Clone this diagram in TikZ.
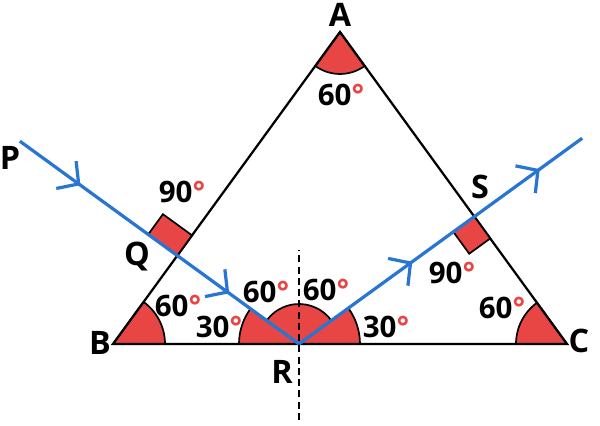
\documentclass[tikz,border=0pt]{standalone}
\usepackage{fontspec}
\setmainfont{Open Sans}
\usetikzlibrary{calc,arrows.meta,decorations.markings}
\definecolor{angred}{RGB}{232,69,69}
\definecolor{rayblue}{RGB}{40,118,210}
\newcommand{\dg}{\textcolor{angred}{°}}
\tikzset{
  chev/.style 2 args={postaction={decorate},decoration={markings,
    mark=at position #1 with {\arrow{Straight Barb[length=11pt,width=24pt]}},
    mark=at position #2 with {\arrow{Straight Barb[length=11pt,width=24pt]}}}}
}
\begin{document}
\begin{tikzpicture}[x=0.025cm,y=0.025cm,
    side/.style={line width=1.6pt},
    sector/.style={fill=angred,draw=black,line width=1.2pt},
    ray/.style={rayblue,line width=2.3pt},
    lbl/.style={font=\fontsize{23}{23}\selectfont\bfseries},
    ang/.style={font=\fontsize{21}{21}\selectfont\bfseries}]
  \useasboundingbox (0,0) rectangle (600,426);
  % triangle and light ray
  \coordinate (A) at (340,394);
  \coordinate (B) at (113,82);
  \coordinate (C) at (567,82);
  \coordinate (R) at (299,82);
  \coordinate (P) at ($(R)+(144:345)$);
  \coordinate (E) at ($(R)+(36:350)$);
  \coordinate (Q) at (intersection of P--R and B--A);
  \coordinate (S) at (intersection of R--E and C--A);
  \coordinate (N1) at (299,6);
  \coordinate (N2) at (299,176);
  % angles
  \draw[sector] (A) -- ++(234:42) arc[start angle=234,end angle=306,radius=42] -- cycle;
  \draw[sector] (B) -- ++(0:52) arc[start angle=0,end angle=54,radius=52] -- cycle;
  \draw[sector] (C) -- ++(126:51) arc[start angle=126,end angle=180,radius=51] -- cycle;
  \draw[sector] (R) -- ++(144:60) arc[start angle=144,end angle=180,radius=60] -- cycle;
  \draw[sector] (R) -- ++(0:61) arc[start angle=0,end angle=36,radius=61] -- cycle;
  \draw[sector] (R) -- ++(36:40) arc[start angle=36,end angle=144,radius=40] -- cycle;
  \draw[side] (A) -- (B) -- (C) -- cycle;
  % right angles
  \coordinate (Q1) at ($(Q)!0.625cm!(A)$);
  \coordinate (Q2) at ($(Q)!0.9cm!(P)$);
  \draw[sector] (Q) -- (Q1) -- ($(Q1)+(Q2)-(Q)$) -- (Q2) -- cycle;
  \coordinate (S1) at ($(S)!0.675cm!(C)$);
  \coordinate (S2) at ($(S)!0.65cm!(R)$);
  \draw[sector] (S) -- (S1) -- ($(S1)+(S2)-(S)$) -- (S2) -- cycle;
  \draw[side,dash pattern=on 5pt off 3pt] (N1) -- (N2);
  \draw[ray,chev={0.217}{0.75}] (P) -- (R);
  \draw[ray,chev={0.40}{0.85}] (R) -- (E);
  % labels
  \node[lbl] (lA) at (340,411) {A};
  \node[lbl] (lB) at (100,83) {B};
  \node[lbl] (lC) at (579,85) {C};
  \node[lbl] (lR) at (282,54) {R};
  \node[lbl] (lP) at (10,268) {P};
  \node[lbl] (lQ) at (137,169) {Q};
  \node[lbl] (lS) at (480,239) {S};
  \node[ang] (aA) at (341,331) {60\dg};
  \node[ang] (aQ) at (182,234) {90\dg};
  \node[ang] (aB) at (178,120) {60\dg};
  \node[ang] (aR1) at (219,99) {30\dg};
  \node[ang] (aR2) at (266,134) {60\dg};
  \node[ang] (aR3) at (326,136) {60\dg};
  \node[ang] (aR4) at (386,99) {30\dg};
  \node[ang] (aS) at (452,153) {90\dg};
  \node[ang] (aC) at (502,118) {60\dg};
\end{tikzpicture}
\end{document}
